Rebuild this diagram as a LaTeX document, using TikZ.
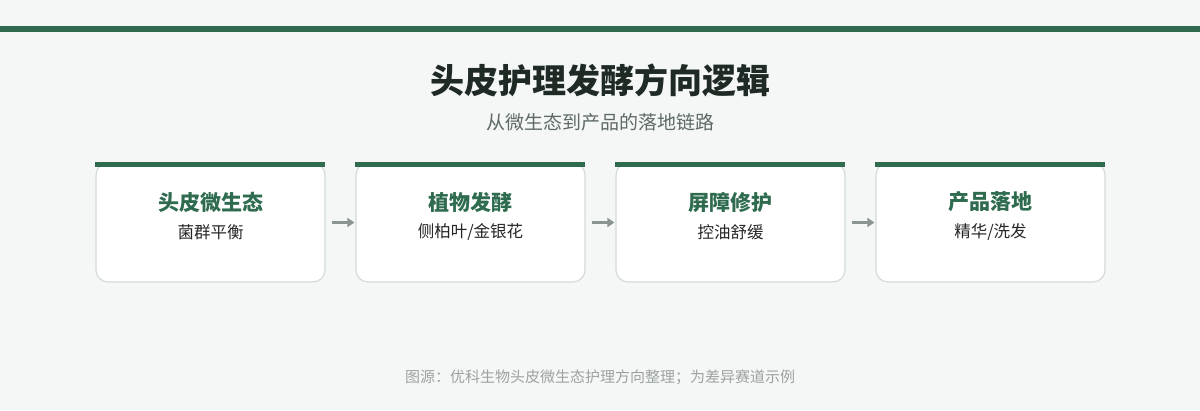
\documentclass[tikz,border=0pt]{standalone}
\usepackage{fontspec}
\setmainfont{Noto Sans CJK SC}
\usetikzlibrary{positioning,arrows.meta}

\definecolor{leaf}{HTML}{2E6B4F}
\definecolor{paper}{HTML}{F5F7F6}
\definecolor{ink}{HTML}{1F2A25}
\definecolor{mist}{HTML}{5E6A65}
\definecolor{rim}{HTML}{D3DBD7}
\definecolor{pointer}{HTML}{8A9490}
\definecolor{note}{HTML}{9BA39F}

\tikzset{
  card/.style={draw=rim, line width=1.2pt, fill=white, rounded corners=12pt,
    minimum width=229pt, minimum height=119pt},
  cardhead/.style={text=leaf, font=\fontsize{21}{25}\selectfont\bfseries},
  cardsub/.style={text=black!85, font=\fontsize{16.5}{20}\selectfont},
  flow/.style={draw=pointer, line width=2.6pt, -{Triangle[length=7pt,width=9pt]}}
}

\begin{document}
\begin{tikzpicture}[x=1pt, y=-1pt]
    \fill[paper] (0,0) rectangle (1200,410);
    \fill[leaf] (0,26) rectangle (1200,32);

    \node[text=ink, font=\fontsize{34}{40}\selectfont\bfseries] (title) at (600,80) {头皮护理发酵方向逻辑};
    \node[text=mist, font=\fontsize{19}{23}\selectfont] (subtitle) at (600,122) {从微生态到产品的落地链路};

    \foreach \i/\x/\head/\sub in {1/210.5/头皮微生态/菌群平衡, 2/470.5/植物发酵/{侧柏叶/金银花},
                                  3/730.5/屏障修护/控油舒缓, 4/990.5/产品落地/{精华/洗发}} {
        \node[card] (card\i) at (\x,222.5) {};
        \fill[leaf] (card\i.north west) ++(-0.6,-0.6) rectangle ++(230.2,5.6);
        \node[cardhead] (head\i) at ([yshift=20.5pt]card\i.center) {\head};
        \node[cardsub] (sub\i) at ([yshift=-9.5pt]card\i.center) {\sub};
    }

    \foreach \a/\b in {1/2, 2/3, 3/4}
        \draw[flow] ([xshift=6pt]card\a.east) -- ([xshift=-1pt]card\b.west);

    \node[text=note, font=\fontsize{15}{18}\selectfont] (source) at (600,377) {图源：优科生物头皮微生态护理方向整理；为差异赛道示例};
\end{tikzpicture}
\end{document}
